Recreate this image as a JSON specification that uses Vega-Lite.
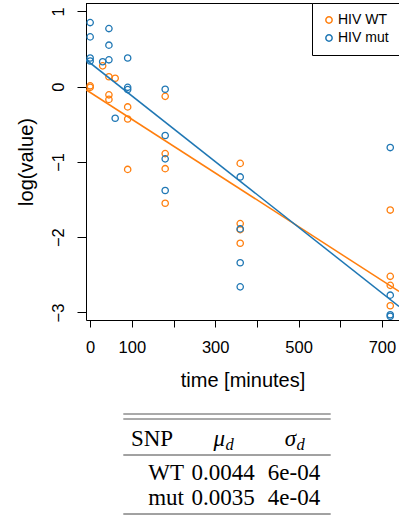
{
  "$schema": "https://vega.github.io/schema/vega-lite/v6.json",
  "width": 313,
  "height": 317,
  "autosize": {"type": "none"},
  "padding": {"left": 86, "top": 3, "right": 0, "bottom": 207},
  "background": "white",
  "config": {
    "view": {"stroke": null},
    "font": "Liberation Sans",
    "scale": {"pointPadding": 0},
    "axis": {
      "domainColor": "black",
      "tickColor": "black",
      "labelColor": "black",
      "titleColor": "black",
      "grid": false,
      "labelFont": "Liberation Sans",
      "titleFont": "Liberation Sans",
      "titleFontWeight": "normal",
      "labelFontSize": 16.5,
      "titleFontSize": 20,
      "domainWidth": 1,
      "tickWidth": 1
    }
  },
  "datasets": {
    "points": [
      {"group": "HIV WT", "time": 0, "logvalue": 0.01},
      {"group": "HIV WT", "time": 0, "logvalue": -0.01},
      {"group": "HIV WT", "time": 30, "logvalue": 0.275},
      {"group": "HIV WT", "time": 45, "logvalue": 0.13},
      {"group": "HIV WT", "time": 45, "logvalue": -0.11},
      {"group": "HIV WT", "time": 45, "logvalue": -0.17},
      {"group": "HIV WT", "time": 60, "logvalue": 0.11},
      {"group": "HIV WT", "time": 90, "logvalue": -0.27},
      {"group": "HIV WT", "time": 90, "logvalue": -0.43},
      {"group": "HIV WT", "time": 90, "logvalue": -1.1},
      {"group": "HIV WT", "time": 180, "logvalue": -0.13},
      {"group": "HIV WT", "time": 180, "logvalue": -0.89},
      {"group": "HIV WT", "time": 180, "logvalue": -1.09},
      {"group": "HIV WT", "time": 180, "logvalue": -1.55},
      {"group": "HIV WT", "time": 360, "logvalue": -1.02},
      {"group": "HIV WT", "time": 360, "logvalue": -1.82},
      {"group": "HIV WT", "time": 360, "logvalue": -1.9},
      {"group": "HIV WT", "time": 360, "logvalue": -2.08},
      {"group": "HIV WT", "time": 720, "logvalue": -1.64},
      {"group": "HIV WT", "time": 720, "logvalue": -2.52},
      {"group": "HIV WT", "time": 720, "logvalue": -2.64},
      {"group": "HIV WT", "time": 720, "logvalue": -2.91},
      {"group": "HIV mut", "time": 0, "logvalue": 0.85},
      {"group": "HIV mut", "time": 0, "logvalue": 0.66},
      {"group": "HIV mut", "time": 0, "logvalue": 0.38},
      {"group": "HIV mut", "time": 0, "logvalue": 0.34},
      {"group": "HIV mut", "time": 30, "logvalue": 0.33},
      {"group": "HIV mut", "time": 45, "logvalue": 0.77},
      {"group": "HIV mut", "time": 45, "logvalue": 0.55},
      {"group": "HIV mut", "time": 45, "logvalue": 0.355},
      {"group": "HIV mut", "time": 60, "logvalue": -0.42},
      {"group": "HIV mut", "time": 90, "logvalue": 0.38},
      {"group": "HIV mut", "time": 90, "logvalue": -0.01},
      {"group": "HIV mut", "time": 90, "logvalue": -0.04},
      {"group": "HIV mut", "time": 180, "logvalue": -0.035},
      {"group": "HIV mut", "time": 180, "logvalue": -0.65},
      {"group": "HIV mut", "time": 180, "logvalue": -0.96},
      {"group": "HIV mut", "time": 180, "logvalue": -1.38},
      {"group": "HIV mut", "time": 360, "logvalue": -1.2},
      {"group": "HIV mut", "time": 360, "logvalue": -1.89},
      {"group": "HIV mut", "time": 360, "logvalue": -2.34},
      {"group": "HIV mut", "time": 360, "logvalue": -2.66},
      {"group": "HIV mut", "time": 720, "logvalue": -0.81},
      {"group": "HIV mut", "time": 720, "logvalue": -2.77},
      {"group": "HIV mut", "time": 720, "logvalue": -3.03},
      {"group": "HIV mut", "time": 720, "logvalue": -3.05}
    ],
    "fit": [
      {"group": "HIV WT", "time": -10, "logvalue": -0.042},
      {"group": "HIV WT", "time": 741, "logvalue": -2.72},
      {"group": "HIV mut", "time": -10, "logvalue": 0.357},
      {"group": "HIV mut", "time": 741, "logvalue": -2.92}
    ],
    "table": [
      {"row": "header", "col": "c1", "text": "SNP"},
      {"row": "header", "col": "c2", "text": "μ", "sub": "d"},
      {"row": "header", "col": "c3", "text": "σ", "sub": "d"},
      {"row": "WT", "col": "c1", "text": "WT"},
      {"row": "WT", "col": "c2", "text": "0.0044"},
      {"row": "WT", "col": "c3", "text": "6e-04"},
      {"row": "mut", "col": "c1", "text": "mut"},
      {"row": "mut", "col": "c2", "text": "0.0035"},
      {"row": "mut", "col": "c3", "text": "4e-04"}
    ],
    "rules": [
      {"rule": "top1", "row": "header", "from": "c1", "to": "c3"},
      {"rule": "top2", "row": "header", "from": "c1", "to": "c3"},
      {"rule": "mid", "row": "header", "from": "c1", "to": "c3"},
      {"rule": "bottom", "row": "mut", "from": "c1", "to": "c3"}
    ]
  },
  "layer": [
    {
      "layer": [
        {
          "data": {"name": "points"},
          "mark": {"type": "point", "filled": false, "size": 40, "strokeWidth": 1.3, "opacity": 1, "clip": true},
          "encoding": {
            "x": {
              "field": "time", "type": "quantitative",
              "scale": {"domain": [-10, 741], "nice": false, "zero": false},
              "axis": {
                "title": "time [minutes]",
                "values": [0, 100, 200, 300, 400, 500, 600, 700],
                "labelExpr": "(datum.value == 200 || datum.value == 400 || datum.value == 600) ? '' : datum.label",
                "tickSize": 7,
                "labelPadding": 12,
                "labelOverlap": false,
                "labelFlush": false,
                "titlePadding": 15
              }
            },
            "y": {
              "field": "logvalue", "type": "quantitative",
              "scale": {"domain": [-3.1, 1.11], "nice": false, "zero": false},
              "axis": {
                "title": "log(value)",
                "values": [-3, -2, -1, 0, 1],
                "format": "d",
                "tickSize": 9,
                "labelAngle": -90,
                "labelAlign": "center",
                "labelBaseline": "alphabetic",
                "labelPadding": 14,
                "labelOverlap": false,
                "labelFlush": false,
                "titlePadding": 14
              }
            },
            "color": {
              "field": "group", "type": "nominal",
              "scale": {"domain": ["HIV WT", "HIV mut"], "range": ["#ff7f0e", "#1f77b4"]},
              "legend": {
                "title": null,
                "orient": "top-right",
                "offset": 0,
                "strokeColor": "black",
                "fillColor": "white",
                "padding": 10,
                "symbolType": "circle",
                "symbolSize": 40,
                "symbolStrokeWidth": 1.5,
                "symbolFillColor": "transparent",
                "labelFont": "Liberation Sans",
                "labelFontSize": 14,
                "labelColor": "black",
                "labelOffset": 2,
                "rowPadding": 4
              }
            }
          }
        },
        {
          "data": {"name": "fit"},
          "mark": {"type": "line", "strokeWidth": 1.5, "clip": true},
          "encoding": {
            "x": {"field": "time", "type": "quantitative"},
            "y": {"field": "logvalue", "type": "quantitative"},
            "color": {"field": "group", "type": "nominal", "legend": null}
          }
        },
        {
          "data": {"values": [{"border": "top"}]},
          "mark": {"type": "rule", "color": "black", "strokeWidth": 1, "yOffset": 0.5},
          "encoding": {
            "y": {"datum": 1.11, "type": "quantitative"}
          }
        }
      ]
    },
    {
      "layer": [
        {
          "data": {"name": "rules"},
          "transform": [{"filter": "datum.rule == 'top1'"}],
          "mark": {"type": "rule", "color": "#555555", "strokeWidth": 1, "xOffset": -28.7, "x2Offset": 36.7, "yOffset": -41},
          "encoding": {
            "x": {"field": "from", "type": "nominal", "scale": {"type": "point", "domain": ["c1", "c2", "c3"], "range": [66, 208], "padding": 0}, "axis": null},
            "x2": {"field": "to"},
            "y": {"field": "row", "type": "nominal", "scale": {"type": "point", "domain": ["header", "WT", "mut"], "range": [452, 502], "padding": 0}, "axis": null}
          }
        },
        {
          "data": {"name": "rules"},
          "transform": [{"filter": "datum.rule == 'top2'"}],
          "mark": {"type": "rule", "color": "#555555", "strokeWidth": 1, "xOffset": -28.7, "x2Offset": 36.7, "yOffset": -36},
          "encoding": {
            "x": {"field": "from", "type": "nominal", "scale": {"type": "point", "domain": ["c1", "c2", "c3"], "range": [66, 208], "padding": 0}, "axis": null},
            "x2": {"field": "to"},
            "y": {"field": "row", "type": "nominal", "scale": {"type": "point", "domain": ["header", "WT", "mut"], "range": [452, 502], "padding": 0}, "axis": null}
          }
        },
        {
          "data": {"name": "rules"},
          "transform": [{"filter": "datum.rule == 'mid'"}],
          "mark": {"type": "rule", "color": "#444444", "strokeWidth": 1, "xOffset": -28.7, "x2Offset": 36.7, "yOffset": 0},
          "encoding": {
            "x": {"field": "from", "type": "nominal", "scale": {"type": "point", "domain": ["c1", "c2", "c3"], "range": [66, 208], "padding": 0}, "axis": null},
            "x2": {"field": "to"},
            "y": {"field": "row", "type": "nominal", "scale": {"type": "point", "domain": ["header", "WT", "mut"], "range": [452, 502], "padding": 0}, "axis": null}
          }
        },
        {
          "data": {"name": "rules"},
          "transform": [{"filter": "datum.rule == 'bottom'"}],
          "mark": {"type": "rule", "color": "#444444", "strokeWidth": 1, "xOffset": -28.7, "x2Offset": 36.7, "yOffset": 9},
          "encoding": {
            "x": {"field": "from", "type": "nominal", "scale": {"type": "point", "domain": ["c1", "c2", "c3"], "range": [66, 208], "padding": 0}, "axis": null},
            "x2": {"field": "to"},
            "y": {"field": "row", "type": "nominal", "scale": {"type": "point", "domain": ["header", "WT", "mut"], "range": [452, 502], "padding": 0}, "axis": null}
          }
        },
        {
          "data": {"name": "table"},
          "transform": [{"filter": "datum.col == 'c1' && datum.row != 'header'"}],
          "mark": {"type": "text", "font": "Liberation Serif", "fontSize": 23, "align": "right", "baseline": "alphabetic", "dx": 32, "color": "black"},
          "encoding": {
            "x": {"field": "col", "type": "nominal", "scale": {"type": "point", "domain": ["c1", "c2", "c3"], "range": [66, 208], "padding": 0}, "axis": null},
            "y": {"field": "row", "type": "nominal", "scale": {"type": "point", "domain": ["header", "WT", "mut"], "range": [452, 502], "padding": 0}, "axis": null},
            "text": {"field": "text"}
          }
        },
        {
          "data": {"name": "table"},
          "transform": [{"filter": "datum.col != 'c1' && datum.row != 'header'"}],
          "mark": {"type": "text", "font": "Liberation Serif", "fontSize": 23, "align": "center", "baseline": "alphabetic", "color": "black"},
          "encoding": {
            "x": {"field": "col", "type": "nominal", "scale": {"type": "point", "domain": ["c1", "c2", "c3"], "range": [66, 208], "padding": 0}, "axis": null},
            "y": {"field": "row", "type": "nominal", "scale": {"type": "point", "domain": ["header", "WT", "mut"], "range": [452, 502], "padding": 0}, "axis": null},
            "text": {"field": "text"}
          }
        },
        {
          "data": {"name": "table"},
          "transform": [{"filter": "datum.col == 'c1' && datum.row == 'header'"}],
          "mark": {"type": "text", "font": "Liberation Serif", "fontSize": 23, "align": "center", "baseline": "alphabetic", "dy": -9, "color": "black"},
          "encoding": {
            "x": {"field": "col", "type": "nominal", "scale": {"type": "point", "domain": ["c1", "c2", "c3"], "range": [66, 208], "padding": 0}, "axis": null},
            "y": {"field": "row", "type": "nominal", "scale": {"type": "point", "domain": ["header", "WT", "mut"], "range": [452, 502], "padding": 0}, "axis": null},
            "text": {"field": "text"}
          }
        },
        {
          "data": {"name": "table"},
          "transform": [{"filter": "datum.col != 'c1' && datum.row == 'header'"}],
          "mark": {"type": "text", "font": "Liberation Serif", "fontSize": 23, "fontStyle": "italic", "align": "right", "baseline": "alphabetic", "dx": 2, "dy": -9, "color": "black"},
          "encoding": {
            "x": {"field": "col", "type": "nominal", "scale": {"type": "point", "domain": ["c1", "c2", "c3"], "range": [66, 208], "padding": 0}, "axis": null},
            "y": {"field": "row", "type": "nominal", "scale": {"type": "point", "domain": ["header", "WT", "mut"], "range": [452, 502], "padding": 0}, "axis": null},
            "text": {"field": "text"}
          }
        },
        {
          "data": {"name": "table"},
          "transform": [{"filter": "datum.col != 'c1' && datum.row == 'header'"}],
          "mark": {"type": "text", "font": "Liberation Serif", "fontSize": 16.5, "fontStyle": "italic", "align": "left", "baseline": "alphabetic", "dx": 2.5, "dy": -5, "color": "black"},
          "encoding": {
            "x": {"field": "col", "type": "nominal", "scale": {"type": "point", "domain": ["c1", "c2", "c3"], "range": [66, 208], "padding": 0}, "axis": null},
            "y": {"field": "row", "type": "nominal", "scale": {"type": "point", "domain": ["header", "WT", "mut"], "range": [452, 502], "padding": 0}, "axis": null},
            "text": {"field": "sub"}
          }
        }
      ]
    }
  ],
  "resolve": {"scale": {"x": "independent", "y": "independent"}}
}
